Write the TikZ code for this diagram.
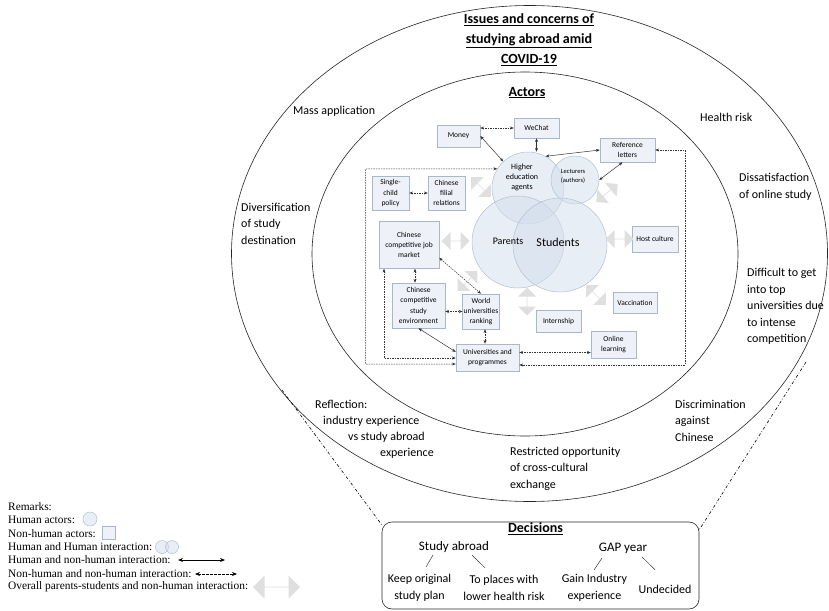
\documentclass[tikz,border=0pt]{standalone}
\usepackage{fontspec}
\setmainfont{Carlito}
\newfontfamily\legendfont{Liberation Serif}
\usetikzlibrary{shapes.arrows,arrows.meta,calc}
\definecolor{boxfill}{HTML}{EEF2F8}
\definecolor{boxline}{HTML}{A9B7CA}
\definecolor{circfill}{HTML}{D3DEEC}
\definecolor{circline}{HTML}{B3C0D1}
\definecolor{arrowgray}{HTML}{DFDFDF}
\begin{document}
\begin{tikzpicture}[x=1pt,y=-1pt,
  ring/.style={line width=0.6pt, draw=black!85},
  ringlabel/.style={font=\fontsize{12}{16.5}\selectfont, align=left, inner sep=0pt, anchor=west},
  heading/.style={font=\fontsize{14}{20}\selectfont\bfseries, align=center, inner sep=0pt},
  actorbox/.style={draw=boxline, fill=boxfill, line width=0.5pt, align=center, font=\fontsize{7.5}{10.3}\selectfont, inner sep=1pt},
  human/.style={circle, draw=circline, fill=circfill, fill opacity=0.5, line width=0.5pt, inner sep=0pt},
  humantext/.style={inner sep=0pt, align=center},
  hn/.style={arrows={Stealth[length=3.8pt,width=3pt]-Stealth[length=3.8pt,width=3pt]}, line width=0.5pt, draw=black!80},
  nn/.style={hn, dash pattern=on 1.5pt off 1pt},
  bigarrow/.style={double arrow, fill=arrowgray, draw=none, minimum height=28pt, minimum width=18pt, double arrow head extend=5pt, inner sep=0pt},
  dashdot/.style={line width=0.6pt, dash pattern=on 3pt off 2pt on 0.7pt off 2pt},
  decbox/.style={draw=black!85, line width=0.6pt, rounded corners=10pt},
  dectitle/.style={font=\fontsize{13}{17}\selectfont, inner sep=0pt},
  decitem/.style={font=\fontsize{12}{17}\selectfont, align=center, inner sep=0pt},
  decline/.style={line width=0.45pt, draw=black!80},
  legendtext/.style={font=\legendfont\fontsize{11.4}{13.3}\selectfont, inner sep=0pt, anchor=west},
  legendarrow/.style={arrows={Stealth[length=5pt,width=4pt]-Stealth[length=5pt,width=4pt]}, line width=0.8pt, draw=black},
]
\useasboundingbox (0,0) rectangle (829,610);
\fill[white] (0,0) rectangle (829,610);

% rings
\draw[ring] (529.5,253.5) ellipse [x radius=298, y radius=248];
\draw[ring] (525,254) ellipse [x radius=213, y radius=182];

% headings
\node[heading] (title) at (529,40) {\underline{Issues and concerns of}\\\underline{studying abroad amid}\\\underline{COVID-19}};
\node[heading] (actors) at (527,92.6) {\underline{Actors}};

% ring labels
\node[ringlabel] (mass) at (293,111) {Mass application};
\node[ringlabel] (health) at (700,117) {Health risk};
\node[ringlabel] (divers) at (241,223.5) {Diversification\\of study\\destination};
\node[ringlabel] (dissat) at (739,187) {Dissatisfaction\\of online study};
\node[ringlabel] (diffic) at (747,306.5) {Difficult to get\\into top\\universities due\\to intense\\competition};
\node[ringlabel] (refla) at (315,404.5) {Reflection:};
\node[ringlabel] (reflb) at (323,421) {industry experience};
\node[ringlabel] (reflc) at (348,437) {vs study abroad};
\node[ringlabel] (refld) at (380,453) {experience};
\node[ringlabel] (discr) at (675,420.5) {Discrimination\\against\\Chinese};
\node[ringlabel] (restr) at (510,468.5) {Restricted opportunity\\of cross-cultural\\exchange};

% human actors
\node[human, minimum size=72pt] (hea) at (528,188) {};
\node[human, minimum size=48pt] (lect) at (575,180) {};
\node[human, minimum size=92pt] (par) at (518,242) {};
\node[human, minimum size=94pt] (stu) at (560,245) {};
\node[humantext, font=\fontsize{8}{10}\selectfont] (heat) at (522,177) {Higher\\education\\agents};
\node[humantext, font=\fontsize{6.5}{9}\selectfont] (lectt) at (573,176) {Lecturers\\(authors)};
\node[humantext, font=\fontsize{10}{12}\selectfont] (part) at (508,241) {Parents};
\node[humantext, font=\fontsize{12}{14}\selectfont] (stut) at (558,242) {Students};

% non-human actors
\node[actorbox, minimum width=43pt, minimum height=22pt] (money) at (458.5,136) {Money};
\node[actorbox, minimum width=45pt, minimum height=20pt] (wechat) at (536.5,128) {WeChat};
\node[actorbox, minimum width=55pt, minimum height=24pt] (reflet) at (627.5,150) {Reference\\letters};
\node[actorbox, minimum width=37pt, minimum height=34pt] (single) at (390.5,193) {Single-\\child\\policy};
\node[actorbox, minimum width=37pt, minimum height=34pt] (filial) at (446.5,193) {Chinese\\filial\\relations};
\node[actorbox, minimum width=60pt, minimum height=47pt] (job) at (409,245) {Chinese\\competitive job\\market};
\node[actorbox, minimum width=53pt, minimum height=45pt] (study) at (418.5,305.5) {Chinese\\competitive\\study\\environment};
\node[actorbox, minimum width=36pt, minimum height=35pt] (world) at (481,311.5) {World\\universities\\ranking};
\node[actorbox, minimum width=45pt, minimum height=22pt] (intern) at (558.5,321) {Internship};
\node[actorbox, minimum width=44pt, minimum height=21pt] (vacc) at (635,302.5) {Vaccination};
\node[actorbox, minimum width=46pt, minimum height=26pt] (host) at (655,239) {Host culture};
\node[actorbox, minimum width=45pt, minimum height=27pt] (online) at (613.5,344.5) {Online\\learning};
\node[actorbox, minimum width=63pt, minimum height=27pt] (univ) at (487.5,357.5) {Universities and\\programmes};

% big grey arrows
\node[bigarrow, rotate=-45] (ba1) at (481,187) {};
\node[bigarrow, rotate=40] (ba2) at (607,193) {};
\node[bigarrow] (ba3) at (455.5,241) {};
\node[bigarrow] (ba4) at (619.5,239) {};
\node[bigarrow, rotate=45] (ba5) at (467.5,281) {};
\node[bigarrow, rotate=90] (ba6) at (527,301.5) {};
\node[bigarrow, rotate=-45] (ba7) at (596,295) {};

% human - non-human interactions
\draw[hn] (money.east) -- (hea.133);
\draw[hn] (wechat.south) -- (wechat.south |- hea.north);
\draw[hn] (hea.61) -- (reflet.west);
\draw[hn] (lect.east) -- ([xshift=-5pt]reflet.south);

% non-human - non-human interactions
\draw[nn] (money.east |- wechat.west) -- (wechat.west);
\draw[nn] (single) -- (filial);
\draw[nn] ([xshift=6pt]job.south) -- ([xshift=6pt]job.south |- study.north);
\draw[nn] (study.east |- world.west) -- (world.west);
\draw[nn] (job.-23) -- (world.north);
\draw[hn] (study.south) -- (univ.170);
\draw[nn] ([xshift=4pt]world.south) -- ([xshift=4pt]world.south |- univ.north);
\draw[nn] ([yshift=5pt]univ.east) -- ([yshift=5pt]univ.east -| online.west);
\coordinate (fl1) at (365.5,169);
\coordinate (fl2) at (365.5,364);
\draw[nn] (hea.148) -- (fl1) -- (fl2) -- (univ.west |- fl2);
\coordinate (fr1) at (685,150);
\coordinate (fr2) at (685,365);
\draw[nn] (reflet.east) -- (fr1) -- (fr2) -- (univ.east |- fr2);
\coordinate (jl) at (384,358);
\draw[nn] (job.south -| jl) -- (jl) -- (univ.west |- jl);

% decisions
\node[decbox, minimum width=317pt, minimum height=87pt] (dec) at (540.5,565.5) {};
\node[heading] (dect) at (535.5,529) {\underline{Decisions}};
\node[dectitle] (sa) at (454,547) {Study abroad};
\node[dectitle] (gap) at (623,548) {GAP year};
\node[decitem] (keep) at (419.5,587.5) {Keep original\\study plan};
\node[decitem] (lower) at (504,587.5) {To places with\\lower health risk};
\node[decitem] (gain) at (594.5,588) {Gain Industry\\experience};
\node[decitem] (undec) at (665,589) {Undecided};
\draw[decline] ([xshift=-21pt,yshift=-2.25pt]sa.south) -- ([xshift=6.5pt,yshift=6.7pt]keep.north);
\draw[decline] ([xshift=18pt,yshift=-2.25pt]sa.south) -- ([xshift=-19pt,yshift=6.7pt]lower.north);
\draw[decline] ([xshift=-21pt,yshift=-4.5pt]gap.south) -- ([xshift=-0.5pt,yshift=4.2pt]gain.north);
\draw[decline] ([xshift=19pt,yshift=-3.5pt]gap.south) -- ([xshift=-10pt,yshift=14.85pt]undec.north);

% zoom lines
\coordinate (ddl) at (282,390);
\coordinate (ddr) at (806,362);
\draw[dashdot] (ddl) -- ([yshift=-3pt]dec.north west);
\draw[dashdot] (ddr) -- ([yshift=-8pt]dec.north east);

% legend
\node[legendtext] (lg0) at (8,507) {Remarks:};
\node[legendtext] (lg1) at (8,520) {Human actors:};
\node[legendtext] (lg2) at (8,533.5) {Non-human actors:};
\node[legendtext] (lg3) at (8,547) {Human and Human interaction:};
\node[legendtext] (lg4) at (8,560) {Human and non-human interaction:};
\node[legendtext] (lg5) at (8,573.5) {Non-human and non-human interaction:};
\node[legendtext] (lg6) at (8,587) {Overall parents-students and non-human interaction:};
\node[human, minimum size=14pt] (lgc) at (90,519) {};
\node[actorbox, minimum size=13pt] (lgs) at (108.5,532.5) {};
\node[human, minimum size=13pt] (lgh1) at (162,547) {};
\node[human, minimum size=13pt] (lgh2) at (172,547) {};
\coordinate (lga1) at (178,560);
\coordinate (lga2) at (225,560);
\draw[legendarrow] (lga1) -- (lga2);
\coordinate (lgb1) at (195,574);
\coordinate (lgb2) at (237,574);
\draw[legendarrow, line width=0.7pt, dash pattern=on 2.5pt off 1.5pt] (lgb1) -- (lgb2);
\node[bigarrow, minimum height=47pt, minimum width=23pt, double arrow head extend=6.5pt] (lgbig) at (276.5,587) {};
\end{tikzpicture}
\end{document}
